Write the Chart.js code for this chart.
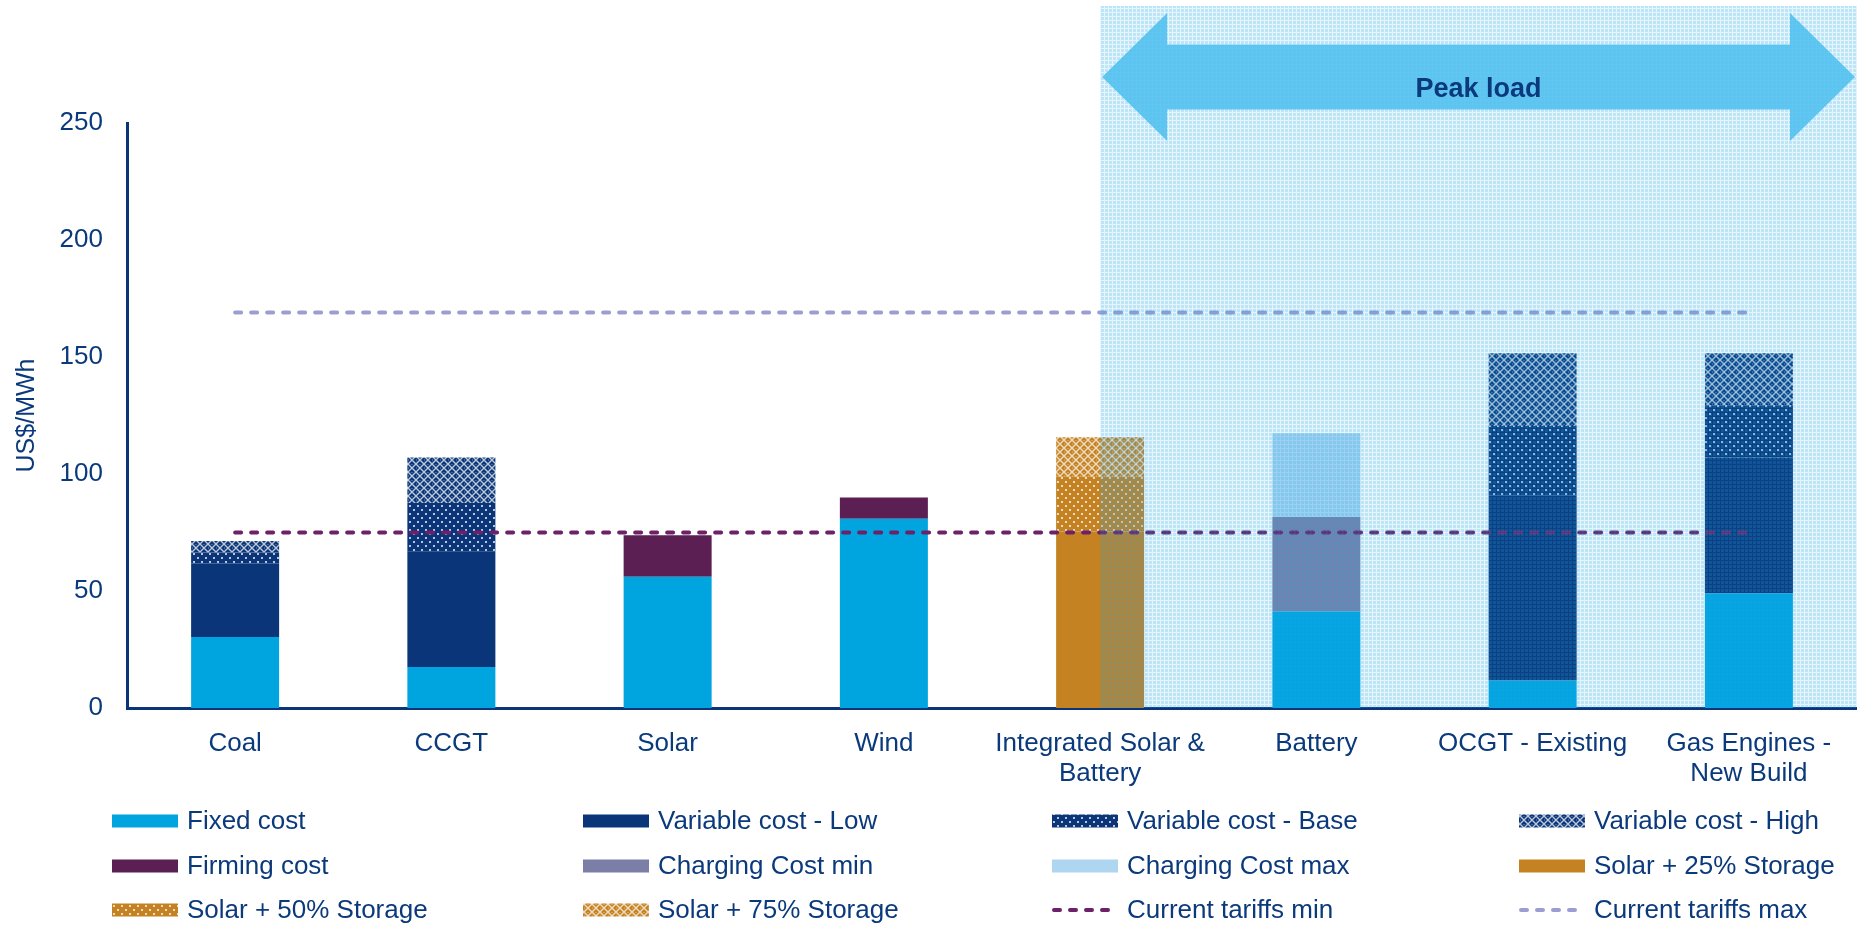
<!DOCTYPE html>
<html>
<head>
<meta charset="utf-8">
<script src="https://cdn.jsdelivr.net/npm/chart.js@4.4.1/dist/chart.umd.min.js"></script>
<style>
  html, body { margin: 0; padding: 0; background: #fff; }
  #wrap { width: 1857px; height: 925px; }
</style>
</head>
<body>
<div id="wrap"><canvas id="chart" width="1857" height="925"></canvas></div>
<script>
// ------------------------------------------------------------
//  Datos (US$/MWh)
// ------------------------------------------------------------
const categories = [
    ['Coal'], ['CCGT'], ['Solar'], ['Wind'],
    ['Integrated Solar &', 'Battery'], ['Battery'],
    ['OCGT - Existing'], ['Gas Engines -', 'New Build'],
]

const fixedCost    = [30.3, 17.5, 56.1, 80.9, null, 41.2, 11.7, 49.0]
const varLow       = [31.4, 49.3, null, null, null, null, 79.2, 58.1]
const varBase      = [4.8,  20.8, null, null, null, null, 29.6, 22.3]
const varHigh      = [4.9,  19.5, null, null, null, null, 31.1, 22.2]
const firmingCost  = [null, null, 17.7, 9.1,  null, null, null, null]
const chargingMin  = [null, null, null, null, null, 40.4, null, null]
const chargingMax  = [null, null, null, null, null, 35.8, null, null]
const solar25      = [null, null, null, null, 75.4, null, null, null]
const solar50      = [null, null, null, null, 23.4, null, null, null]
const solar75      = [null, null, null, null, 16.9, null, null, null]
const tariffMin    = [75, 75, 75, 75, 75, 75, 75, 75]
const tariffMax    = [169, 169, 169, 169, 169, 169, 169, 169]

const yTicks       = [0, 50, 100, 150, 200, 250]
const peakStart    = 4          // la zona "Peak load" arranca en el centro de esta categoría
const peakLabel    = 'Peak load'
const yTitle       = 'US$/MWh'

// ------------------------------------------------------------
//  Colores y texturas
// ------------------------------------------------------------
const NAVY   = '#0a3578'
const TEXT   = '#0b3a7c'
const CYAN   = '#00a5e0'
const ORANGE = '#c58223'
const FONT   = '"Liberation Sans", Arial, sans-serif'

function makePattern(base, kind) {
    const c = document.createElement('canvas')
    c.width = 8
    c.height = 8
    const g = c.getContext('2d')
    g.fillStyle = base
    g.fillRect(0, 0, 8, 8)
    if (kind === 'dots') {
        g.fillStyle = 'rgba(255,255,255,0.9)'
        g.beginPath(); g.arc(2, 2, 1.05, 0, Math.PI * 2); g.fill()
        g.beginPath(); g.arc(6, 6, 1.05, 0, Math.PI * 2); g.fill()
    } else if (kind === 'cross') {
        g.strokeStyle = 'rgba(255,255,255,0.72)'
        g.lineWidth = 1.4
        g.beginPath()
        g.moveTo(0, 0); g.lineTo(8, 8)
        g.moveTo(8, 0); g.lineTo(0, 8)
        g.stroke()
        g.fillStyle = 'rgba(255,255,255,0.5)'
        g.fillRect(3.5, 0, 1, 1)
        g.fillRect(0, 3.5, 1, 1)
    }
    return g.createPattern(c, 'repeat')
}

function makeGrid() {
    const c = document.createElement('canvas')
    c.width = 4
    c.height = 4
    const g = c.getContext('2d')
    g.fillStyle = 'rgba(28,164,232,0.29)'
    g.fillRect(0, 0, 4, 4)
    g.clearRect(0, 0, 4, 1)
    g.clearRect(0, 0, 1, 4)
    g.fillStyle = 'rgba(28,164,232,0.11)'
    g.fillRect(0, 0, 4, 1)
    g.fillRect(0, 1, 1, 3)
    return g.createPattern(c, 'repeat')
}

const gridPattern = makeGrid()

// ------------------------------------------------------------
//  Datasets
// ------------------------------------------------------------
function bar(label, data, color) {
    return { type: 'bar', label, data, backgroundColor: color, borderWidth: 0, stack: 'costs' }
}
function tariff(label, data, color, stack) {
    return {
        type: 'line', label, data, stack, order: -1,
        borderColor: color, borderWidth: 4, borderDash: [6, 10], borderCapStyle: 'round',
        pointRadius: 0, fill: false, tension: 0,
    }
}

const datasets = [
    bar('Fixed cost',             fixedCost,   CYAN),
    bar('Variable cost - Low',    varLow,      NAVY),
    bar('Variable cost - Base',   varBase,     makePattern(NAVY, 'dots')),
    bar('Variable cost - High',   varHigh,     makePattern(NAVY, 'cross')),
    bar('Firming cost',           firmingCost, '#5c1f54'),
    bar('Charging Cost min',      chargingMin, '#7b7fa8'),
    bar('Charging Cost max',      chargingMax, '#aed6f1'),
    bar('Solar + 25% Storage',    solar25,     ORANGE),
    bar('Solar + 50% Storage',    solar50,     makePattern(ORANGE, 'dots')),
    bar('Solar + 75% Storage',    solar75,     makePattern(ORANGE, 'cross')),
    tariff('Current tariffs min', tariffMin,   '#6c2168', 'tmin'),
    tariff('Current tariffs max', tariffMax,   '#9d9dd3', 'tmax'),
]

// ------------------------------------------------------------
//  Plugin: zona "Peak load" con flecha doble
// ------------------------------------------------------------
const peakPlugin = {
    id: 'peakZone',
    afterDatasetsDraw(chart) {
        const { ctx, chartArea } = chart
        const x0 = chart.scales.x.getPixelForValue(peakStart)
        const x1 = chartArea.right
        const top = 6
        ctx.save()
        ctx.fillStyle = gridPattern
        ctx.fillRect(x0, top, x1 - x0, chartArea.bottom - top)

        // flecha doble
        const cy = 77, headH = 64, shaftH = 32.5, headW = 65
        ctx.fillStyle = 'rgba(75,190,240,0.85)'
        ctx.beginPath()
        ctx.moveTo(x0 + 2, cy)
        ctx.lineTo(x0 + 2 + headW, cy - headH)
        ctx.lineTo(x0 + 2 + headW, cy - shaftH)
        ctx.lineTo(x1 - 2 - headW, cy - shaftH)
        ctx.lineTo(x1 - 2 - headW, cy - headH)
        ctx.lineTo(x1 - 2, cy)
        ctx.lineTo(x1 - 2 - headW, cy + headH)
        ctx.lineTo(x1 - 2 - headW, cy + shaftH)
        ctx.lineTo(x0 + 2 + headW, cy + shaftH)
        ctx.lineTo(x0 + 2 + headW, cy + headH)
        ctx.closePath()
        ctx.fill()

        ctx.fillStyle = TEXT
        ctx.font = 'bold 27px ' + FONT
        ctx.textAlign = 'center'
        ctx.textBaseline = 'middle'
        ctx.fillText(peakLabel, (x0 + x1) / 2, 90)
        ctx.restore()
    }
}

// ------------------------------------------------------------
//  Plugin: leyenda en 4 columnas
// ------------------------------------------------------------
const legendPlugin = {
    id: 'gridLegend',
    afterDraw(chart) {
        const { ctx } = chart
        const colX = [112, 583, 1052, 1519]
        const rowY = [821, 866, 910]
        const swW = 66, swH = 13
        ctx.save()
        ctx.font = '26px ' + FONT
        ctx.textBaseline = 'middle'
        ctx.textAlign = 'left'
        chart.data.datasets.forEach((ds, i) => {
            const x = colX[i % 4]
            const y = rowY[Math.floor(i / 4)]
            if (ds.type === 'line') {
                ctx.strokeStyle = ds.borderColor
                ctx.lineWidth = 4
                ctx.lineCap = 'round'
                ctx.setLineDash([6, 10])
                ctx.beginPath()
                ctx.moveTo(x + 2, y)
                ctx.lineTo(x + swW, y)
                ctx.stroke()
                ctx.setLineDash([])
            } else {
                ctx.fillStyle = ds.backgroundColor
                ctx.fillRect(x, y - swH / 2, swW, swH)
            }
            ctx.fillStyle = TEXT
            ctx.fillText(ds.label, x + swW + 9, y + 1)
        })
        ctx.restore()
    }
}

// ------------------------------------------------------------
//  Gráfico
// ------------------------------------------------------------
new Chart(document.getElementById('chart').getContext('2d'), {
    data: { labels: categories, datasets },
    options: {
        responsive: false,
        devicePixelRatio: 1,
        animation: false,
        layout: { padding: { top: 123, left: 0, right: 0, bottom: 0 } },
        plugins: {
            legend: { display: false },
            tooltip: { enabled: false },
        },
        datasets: {
            bar: { categoryPercentage: 1, barPercentage: 0.407 },
        },
        scales: {
            x: {
                stacked: true,
                offset: true,
                grid: { display: false, drawTicks: false },
                border: { color: NAVY, width: 3 },
                ticks: {
                    color: TEXT, padding: 21, maxRotation: 0, autoSkip: false,
                    font: { family: FONT, size: 26, lineHeight: 1.15 },
                },
                afterFit: s => { s.height = 217 },
            },
            y: {
                stacked: true,
                min: 0,
                max: 250,
                grid: { display: false, drawTicks: false },
                border: { color: NAVY, width: 3 },
                afterBuildTicks: s => { s.ticks = yTicks.map(v => ({ value: v })) },
                ticks: {
                    color: TEXT, padding: 24,
                    font: { family: FONT, size: 26 },
                },
                title: {
                    display: true, text: yTitle, color: TEXT,
                    font: { family: FONT, size: 25, lineHeight: 1.2 },
                    padding: { top: 12, bottom: 0 },
                },
                afterFit: s => { s.width = 127 },
            },
        },
    },
    plugins: [peakPlugin, legendPlugin],
})
</script>
</body>
</html>
